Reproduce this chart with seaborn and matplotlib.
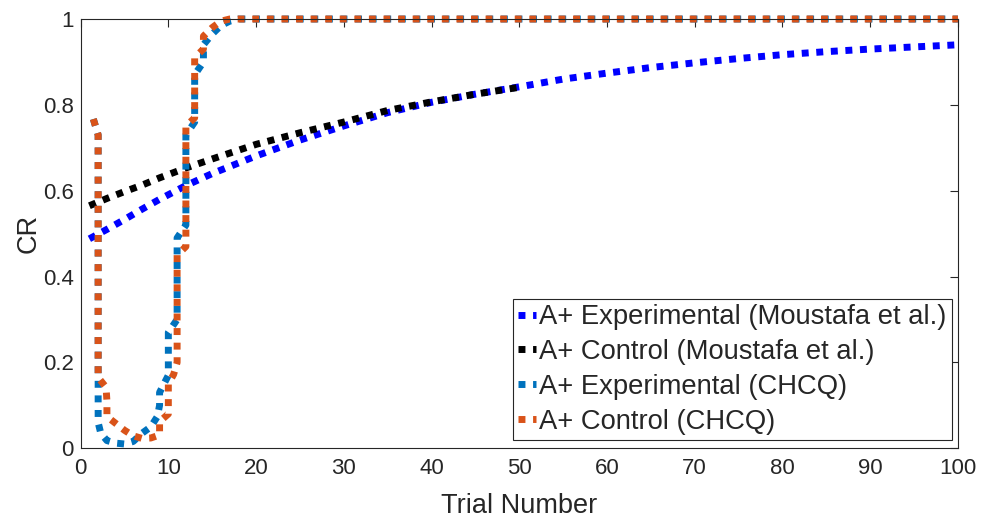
import matplotlib
matplotlib.use("Agg")
import matplotlib.pyplot as plt
import seaborn as sns
import pandas as pd
from matplotlib.ticker import FuncFormatter

# ---------------- data ----------------
moustafa_exp_x = [1, 3, 5, 7, 9, 12, 15, 20, 25, 30, 35, 40, 45, 50, 55, 60, 65, 70, 75, 80, 85, 90, 95, 100]
moustafa_exp_y = [0.488, 0.510, 0.533, 0.557, 0.580, 0.612, 0.640, 0.681, 0.718, 0.751, 0.782, 0.806,
                  0.825, 0.842, 0.860, 0.874, 0.887, 0.898, 0.908, 0.917, 0.924, 0.930, 0.935, 0.940]

moustafa_ctl_x = [1, 3, 5, 7, 9, 12, 15, 20, 25, 30, 35, 40, 45, 50]
moustafa_ctl_y = [0.565, 0.582, 0.598, 0.613, 0.630, 0.653, 0.674, 0.708, 0.735, 0.760, 0.787, 0.807,
                  0.825, 0.841]

chcq_exp_x = [1.45, 2, 2, 2.3, 3, 4, 5, 6, 7, 8, 8.75, 9, 9, 10, 10, 11, 11, 12, 12, 13, 13, 14, 14,
              15, 16, 17, 18, 100]
chcq_exp_y = [0.767, 0.73, 0.06, 0.035, 0.018, 0.012, 0.010, 0.016, 0.035, 0.050, 0.074, 0.10, 0.13,
              0.17, 0.27, 0.30, 0.49, 0.52, 0.73, 0.76, 0.87, 0.90, 0.94, 0.965, 0.985, 0.995, 1.0, 1.0]

chcq_ctl_x = [1.45, 2, 2, 2.9, 3, 3, 4, 5, 6, 7, 8, 9, 9, 10, 10, 10.6, 11, 11, 12, 12, 13, 13, 14, 14,
              15, 16, 17, 100]
chcq_ctl_y = [0.767, 0.73, 0.165, 0.142, 0.11, 0.074, 0.058, 0.042, 0.029, 0.023, 0.024, 0.031, 0.062,
              0.08, 0.15, 0.172, 0.20, 0.45, 0.47, 0.75, 0.77, 0.91, 0.93, 0.96, 0.98, 0.995, 1.0, 1.0]

series_labels = ["A+ Experimental (Moustafa et al.)", "A+ Control (Moustafa et al.)",
                 "A+ Experimental (CHCQ)", "A+ Control (CHCQ)"]
series_colors = ["#0000FF", "#000000", "#0072BD", "#D95319"]

x_ticks = list(range(0, 101, 10))
y_ticks = [0, 0.2, 0.4, 0.6, 0.8, 1]
x_label = "Trial Number"
y_label = "CR"

# ---------------- style ----------------
sns.set_style("white")
plt.rcParams["font.family"] = ["Liberation Sans", "DejaVu Sans"]
axcol = "#262626"

fig = plt.figure(figsize=(9.83, 5.17), dpi=100)
ax = fig.add_axes([0.082, 0.1329, 0.8925, 0.8303])

datasets = [
    (moustafa_exp_x, moustafa_exp_y),
    (moustafa_ctl_x, moustafa_ctl_y),
    (chcq_exp_x, chcq_exp_y),
    (chcq_ctl_x, chcq_ctl_y),
]
for (xs, ys), lab, col in zip(datasets, series_labels, series_colors):
    df = pd.DataFrame({"trial": xs, "cr": ys})
    sns.lineplot(data=df, x="trial", y="cr", estimator=None, sort=False, ax=ax,
                 color=col, linewidth=5.0, linestyle=(0, (1, 1.1)), label=lab,
                 clip_on=False)

ax.set_xlim(0, 100)
ax.set_ylim(0, 1)
ax.set_xticks(x_ticks)
ax.set_yticks(y_ticks)
ax.yaxis.set_major_formatter(FuncFormatter(lambda v, p: f"{v:g}"))
ax.xaxis.set_major_formatter(FuncFormatter(lambda v, p: f"{v:g}"))
ax.set_xlabel(x_label, fontsize=19.5, color=axcol, labelpad=10)
ax.set_ylabel(y_label, fontsize=19.5, color=axcol, labelpad=1)
ax.tick_params(direction="in", top=True, right=True, length=6, width=0.8,
               colors=axcol, labelsize=16)
ax.tick_params(axis="x", pad=7)
ax.tick_params(axis="y", pad=5)
for s in ax.spines.values():
    s.set_visible(True)
    s.set_color(axcol)
    s.set_linewidth(0.8)

leg = ax.legend(loc="lower right", bbox_to_anchor=(0.993, 0.019), borderaxespad=0,
                fontsize=19.75, handlelength=0.65, handletextpad=0.1, borderpad=0.2,
                labelspacing=0.32, frameon=True, fancybox=False, framealpha=1)
leg.get_frame().set_edgecolor(axcol)
leg.get_frame().set_linewidth(0.8)

fig.savefig("out.png", dpi=100)
